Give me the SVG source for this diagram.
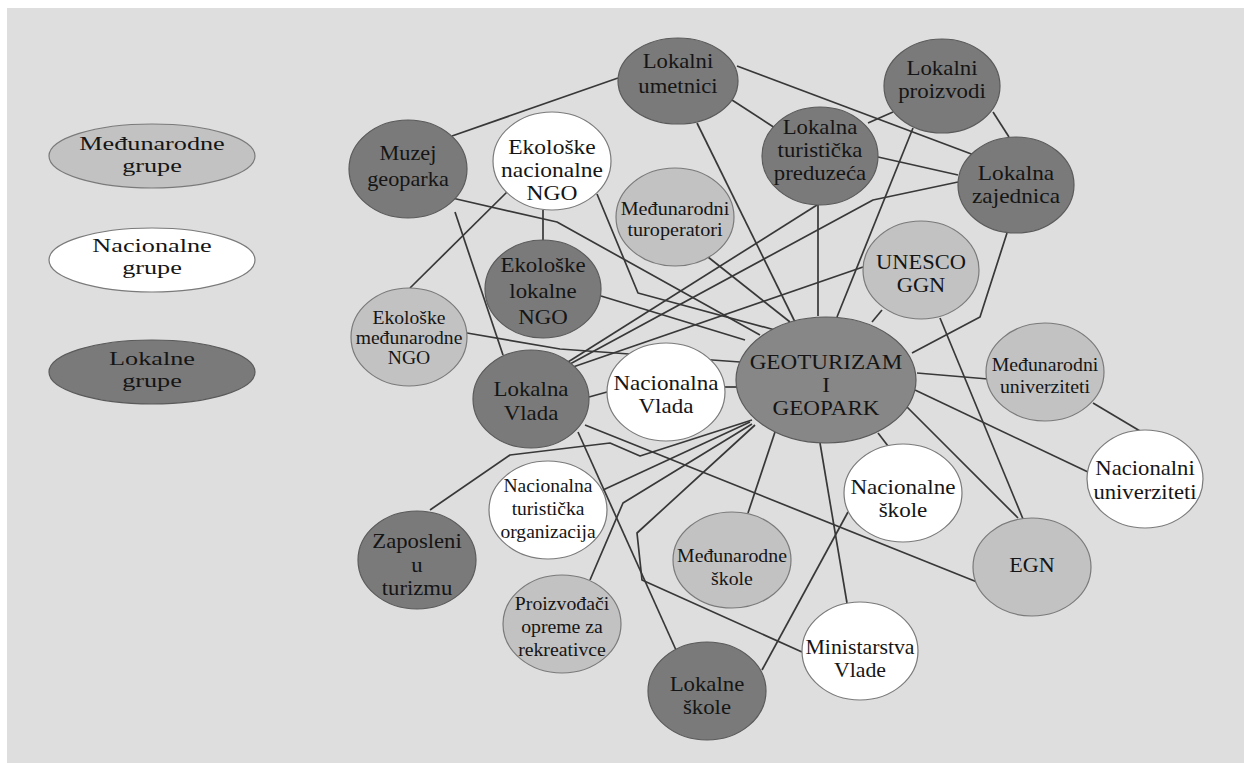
<svg xmlns="http://www.w3.org/2000/svg" width="1244" height="763" viewBox="0 0 1244 763">
<style>
.bg{fill:#dedede}
.loc{fill:#7a7a7a;stroke:#5a5a5a;stroke-width:1.2}
.hub{fill:#878787;stroke:#5a5a5a;stroke-width:1.2}
.intl{fill:#c2c2c2;stroke:#7a7a7a;stroke-width:1.2}
.nat{fill:#ffffff;stroke:#7a7a7a;stroke-width:1.2}
.edge path{fill:none;stroke:#383838;stroke-width:1.7;stroke-linejoin:round}
.lbl{font-family:'Liberation Serif','DejaVu Serif',serif;fill:#151515;text-anchor:middle}
.f21{font-size:21px}
.f20{font-size:20px}
.f22{font-size:22px}
.f19{font-size:19px}
.f18{font-size:18px}
</style>
<rect width="1244" height="763" fill="#ffffff"/>
<rect class="bg" x="7" y="8" width="1237" height="755"/>

<g id="legend-medjunarodne">
<ellipse class="intl" cx="152" cy="156" rx="103" ry="32"/>
<text class="lbl f19" transform="translate(152,156) scale(1.38,1)"><tspan x="0" y="-6">Međunarodne</tspan><tspan x="0" y="16">grupe</tspan></text>
</g>
<g id="legend-nacionalne">
<ellipse class="nat" cx="152" cy="260" rx="103" ry="32"/>
<text class="lbl f19" transform="translate(152,260) scale(1.38,1)"><tspan x="0" y="-8">Nacionalne</tspan><tspan x="0" y="14">grupe</tspan></text>
</g>
<g id="legend-lokalne">
<ellipse class="loc" cx="152" cy="372" rx="103" ry="32"/>
<text class="lbl f19" transform="translate(152,372) scale(1.38,1)"><tspan x="0" y="-7">Lokalne</tspan><tspan x="0" y="15">grupe</tspan></text>
</g>

<g id="connectors" class="edge">
<path d="M452,136 L618,78"/>
<path d="M737,66 L974,155"/>
<path d="M732,100 L775,128"/>
<path d="M697,123 L795,322"/>
<path d="M893,112 L868,123"/>
<path d="M993,112 L1009,137"/>
<path d="M913,128 L837,317"/>
<path d="M818,205 L818,316"/>
<path d="M878,157 L958,175"/>
<path d="M1007,233 L980,317 L912,353"/>
<path d="M455,212 L503,355"/>
<path d="M452,198 L557,222 L760,335"/>
<path d="M507,192 L410,288"/>
<path d="M543,210 L543,240"/>
<path d="M597,194 L638,293 L775,330"/>
<path d="M708,257 L790,322"/>
<path d="M601,296 L745,340"/>
<path d="M467,333 L560,349 L740,362"/>
<path d="M568,362 L817,205"/>
<path d="M570,364 L873,200 L958,182"/>
<path d="M573,367 L863,267"/>
<path d="M589,397 L607,392"/>
<path d="M725,387 L738,387"/>
<path d="M872,322 L882,310"/>
<path d="M940,318 L1023,519"/>
<path d="M917,373 L988,379"/>
<path d="M1093,403 L1140,431"/>
<path d="M915,390 L1088,472"/>
<path d="M905,405 L1018,518"/>
<path d="M878,433 L888,446"/>
<path d="M820,443 L847,603"/>
<path d="M775,432 L748,513"/>
<path d="M848,512 L762,670"/>
<path d="M585,425 L977,582"/>
<path d="M578,432 L676,650"/>
<path d="M430,510 L510,455 L610,443 L640,456 L752,420"/>
<path d="M603,490 L750,422"/>
<path d="M590,580 L623,503 L752,424"/>
<path d="M755,425 L637,533 L642,580 L802,652"/>
</g>

<g id="lokalni-umetnici">
<ellipse class="loc" cx="678" cy="81" rx="60" ry="43"/>
<text class="lbl f21" transform="translate(678,81) scale(1.08,1)"><tspan x="0" y="-13">Lokalni</tspan><tspan x="0" y="12">umetnici</tspan></text>
</g>
<g id="lokalni-proizvodi">
<ellipse class="loc" cx="942" cy="86" rx="58" ry="47"/>
<text class="lbl f21" transform="translate(942,86) scale(1.09,1)"><tspan x="0" y="-11">Lokalni</tspan><tspan x="0" y="12">proizvodi</tspan></text>
</g>
<g id="lokalna-turisticka-preduzeca">
<ellipse class="loc" cx="820" cy="156" rx="58" ry="49"/>
<text class="lbl f20" transform="translate(820,156) scale(1.14,1)"><tspan x="0" y="-22">Lokalna</tspan><tspan x="0" y="1">turistička</tspan><tspan x="0" y="24">preduzeća</tspan></text>
</g>
<g id="lokalna-zajednica">
<ellipse class="loc" cx="1016" cy="185" rx="58" ry="48"/>
<text class="lbl f21" transform="translate(1016,185) scale(1.11,1)"><tspan x="0" y="-5">Lokalna</tspan><tspan x="0" y="18">zajednica</tspan></text>
</g>
<g id="muzej-geoparka">
<ellipse class="loc" cx="408" cy="169" rx="59" ry="49"/>
<text class="lbl f21" transform="translate(408,169) scale(1.06,1)"><tspan x="0" y="-9">Muzej</tspan><tspan x="0" y="17">geoparka</tspan></text>
</g>
<g id="ekoloske-nacionalne-ngo">
<ellipse class="nat" cx="552" cy="161" rx="59" ry="49"/>
<text class="lbl f21" transform="translate(552,161) scale(1.12,1)"><tspan x="0" y="-7">Ekološke</tspan><tspan x="0" y="16">nacionalne</tspan><tspan x="0" y="39">NGO</tspan></text>
</g>
<g id="medjunarodni-turoperatori">
<ellipse class="intl" cx="675" cy="217" rx="59" ry="49"/>
<text class="lbl f18" transform="translate(675,217) scale(1.12,1)"><tspan x="0" y="-2">Međunarodni</tspan><tspan x="0" y="19">turoperatori</tspan></text>
</g>
<g id="ekoloske-lokalne-ngo">
<ellipse class="loc" cx="543" cy="289" rx="58" ry="49"/>
<text class="lbl f21" transform="translate(543,289) scale(1.09,1)"><tspan x="0" y="-17">Ekološke</tspan><tspan x="0" y="9">lokalne</tspan><tspan x="0" y="35">NGO</tspan></text>
</g>
<g id="ekoloske-medjunarodne-ngo">
<ellipse class="intl" cx="409" cy="337" rx="58" ry="49"/>
<text class="lbl f18" transform="translate(409,337) scale(1.09,1)"><tspan x="0" y="-13">Ekološke</tspan><tspan x="0" y="7">međunarodne</tspan><tspan x="0" y="27">NGO</tspan></text>
</g>
<g id="lokalna-vlada">
<ellipse class="loc" cx="531" cy="399" rx="58" ry="49"/>
<text class="lbl f21" transform="translate(531,399) scale(1.09,1)"><tspan x="0" y="-3">Lokalna</tspan><tspan x="0" y="21">Vlada</tspan></text>
</g>
<g id="nacionalna-vlada">
<ellipse class="nat" cx="666" cy="392" rx="59" ry="49"/>
<text class="lbl f21" transform="translate(666,392) scale(1.1,1)"><tspan x="0" y="-2">Nacionalna</tspan><tspan x="0" y="21">Vlada</tspan></text>
</g>
<g id="unesco-ggn">
<ellipse class="intl" cx="921" cy="270" rx="58" ry="49"/>
<text class="lbl f21" transform="translate(921,270) scale(1.07,1)"><tspan x="0" y="-1">UNESCO</tspan><tspan x="0" y="22">GGN</tspan></text>
</g>
<g id="geoturizam-geopark">
<ellipse class="hub" cx="826" cy="380" rx="90" ry="63"/>
<text class="lbl f22" transform="translate(826,380) scale(1.05,1)"><tspan x="0" y="-11">GEOTURIZAM</tspan><tspan x="0" y="12">I</tspan><tspan x="0" y="35">GEOPARK</tspan></text>
</g>
<g id="medjunarodni-univerziteti">
<ellipse class="intl" cx="1045" cy="372" rx="59" ry="49"/>
<text class="lbl f18" transform="translate(1045,372) scale(1.1,1)"><tspan x="0" y="-1">Međunarodni</tspan><tspan x="0" y="21">univerziteti</tspan></text>
</g>
<g id="nacionalni-univerziteti">
<ellipse class="nat" cx="1145" cy="479" rx="58" ry="49"/>
<text class="lbl f21" transform="translate(1145,479) scale(1.08,1)"><tspan x="0" y="-4">Nacionalni</tspan><tspan x="0" y="20">univerziteti</tspan></text>
</g>
<g id="nacionalne-skole">
<ellipse class="nat" cx="903" cy="493" rx="59" ry="49"/>
<text class="lbl f21" transform="translate(903,493) scale(1.1,1)"><tspan x="0" y="1">Nacionalne</tspan><tspan x="0" y="24">škole</tspan></text>
</g>
<g id="egn">
<ellipse class="intl" cx="1032" cy="567" rx="59" ry="49"/>
<text class="lbl f21" transform="translate(1032,567) scale(1.05,1)"><tspan x="0" y="5">EGN</tspan></text>
</g>
<g id="ministarstva-vlade">
<ellipse class="nat" cx="860" cy="651" rx="58" ry="49"/>
<text class="lbl f21" transform="translate(860,651) scale(1.04,1)"><tspan x="0" y="3">Ministarstva</tspan><tspan x="0" y="26">Vlade</tspan></text>
</g>
<g id="medjunarodne-skole">
<ellipse class="intl" cx="732" cy="560" rx="59" ry="48"/>
<text class="lbl f18" transform="translate(732,560) scale(1.1,1)"><tspan x="0" y="2">Međunarodne</tspan><tspan x="0" y="25">škole</tspan></text>
</g>
<g id="lokalne-skole">
<ellipse class="loc" cx="707" cy="691" rx="59" ry="49"/>
<text class="lbl f20" transform="translate(707,691) scale(1.14,1)"><tspan x="0" y="0">Lokalne</tspan><tspan x="0" y="23">škole</tspan></text>
</g>
<g id="nacionalna-turisticka-organizacija">
<ellipse class="nat" cx="548" cy="510" rx="59" ry="49"/>
<text class="lbl f19" transform="translate(548,510) scale(1.03,1)"><tspan x="0" y="-18">Nacionalna</tspan><tspan x="0" y="5">turistička</tspan><tspan x="0" y="28">organizacija</tspan></text>
</g>
<g id="zaposleni-u-turizmu">
<ellipse class="loc" cx="417" cy="560" rx="59" ry="49"/>
<text class="lbl f21" transform="translate(417,560) scale(1.08,1)"><tspan x="0" y="-12">Zaposleni</tspan><tspan x="0" y="12">u</tspan><tspan x="0" y="35">turizmu</tspan></text>
</g>
<g id="proizvodjaci-opreme">
<ellipse class="intl" cx="562" cy="624" rx="59" ry="49"/>
<text class="lbl f19" transform="translate(562,624) scale(1.04,1)"><tspan x="0" y="-14">Proizvođači</tspan><tspan x="0" y="9">opreme za</tspan><tspan x="0" y="32">rekreativce</tspan></text>
</g>
</svg>
